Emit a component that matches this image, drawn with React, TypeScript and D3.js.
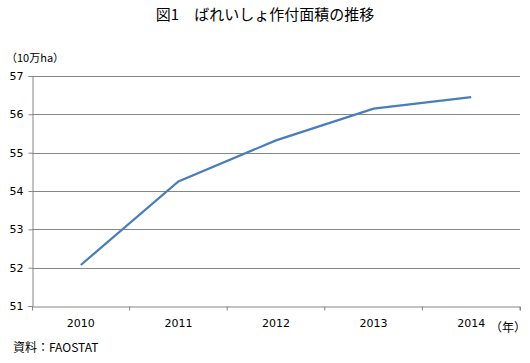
import React, { useEffect, useRef } from 'react';
import * as d3 from 'd3';

const years = ['2010', '2011', '2012', '2013', '2014'];
const area = [52.07, 54.25, 55.32, 56.15, 56.45];
const yTicks = [51, 52, 53, 54, 55, 56, 57];

const W = 530;
const H = 363;

const App = () => {
    const svgRef = useRef<SVGSVGElement>(null);

    useEffect(() => {
        const svg = d3.select(svgRef.current);
        svg.selectAll('*').remove();

        const margin = { top: 76, right: 10, bottom: 57, left: 32 };
        const font = "'Noto Sans CJK JP', 'DejaVu Sans', sans-serif";

        const x = d3
            .scaleBand()
            .domain(years)
            .range([margin.left, W - margin.right]);

        const y = d3
            .scaleLinear()
            .domain([51, 57])
            .range([H - margin.bottom, margin.top]);

        // gridlines
        svg.append('g')
            .selectAll('line')
            .data(yTicks.slice(1))
            .join('line')
            .attr('x1', margin.left)
            .attr('x2', W - margin.right)
            .attr('y1', d => Math.round(y(d)) + 0.5)
            .attr('y2', d => Math.round(y(d)) + 0.5)
            .attr('stroke', '#868686');

        const yAxis = svg.append('g')
            .attr('transform', `translate(${margin.left + 0.5},0)`)
            .call(d3.axisLeft(y).tickValues(yTicks).tickSize(4).tickPadding(5).tickFormat(d3.format('d')));
        yAxis.select('.domain').attr('stroke', '#868686');
        yAxis.selectAll('.tick line').attr('stroke', '#868686');
        yAxis.selectAll('text')
            .attr('fill', '#000')
            .attr('font-size', 11)
            .attr('font-family', "'DejaVu Sans', sans-serif");

        const xAxis = svg.append('g')
            .attr('transform', `translate(0,${Math.round(y(51)) + 0.5})`)
            .call(d3.axisBottom(x).tickSize(4).tickSizeOuter(4).tickPadding(9));
        xAxis.select('.domain').attr('stroke', '#868686');
        xAxis.selectAll('.tick line')
            .attr('stroke', '#868686')
            .attr('transform', `translate(${x.bandwidth() / 2},0)`);
        xAxis.selectAll('text')
            .attr('fill', '#000')
            .attr('font-size', 11)
            .attr('font-family', "'DejaVu Sans', sans-serif");

        const line = d3
            .line<number>()
            .x((_, i) => (x(years[i]) ?? 0) + x.bandwidth() / 2)
            .y(d => y(d));

        svg.append('path')
            .datum(area)
            .attr('fill', 'none')
            .attr('stroke', '#4a7ebb')
            .attr('stroke-width', 2.25)
            .attr('d', line);

        svg.append('text')
            .attr('x', 265)
            .attr('y', 20)
            .attr('text-anchor', 'middle')
            .attr('font-size', 15)
            .attr('font-family', font)
            .text('図1　ばれいしょ作付面積の推移');

        svg.append('text')
            .attr('x', 6)
            .attr('y', 62)
            .attr('font-size', 11)
            .attr('font-family', font)
            .text('（10万ha）');

        svg.append('text')
            .attr('x', 526)
            .attr('y', 332)
            .attr('text-anchor', 'end')
            .attr('font-size', 12)
            .attr('font-family', font)
            .text('（年）');

        svg.append('text')
            .attr('x', 13)
            .attr('y', 352)
            .attr('font-size', 12)
            .attr('font-family', font)
            .text('資料：FAOSTAT');
    }, []);

    return (
        <svg
            ref={svgRef}
            width={W}
            height={H}
            style={{ position: 'absolute', left: 0, top: 0, background: '#fff' }}
        />
    );
};

export default App;
